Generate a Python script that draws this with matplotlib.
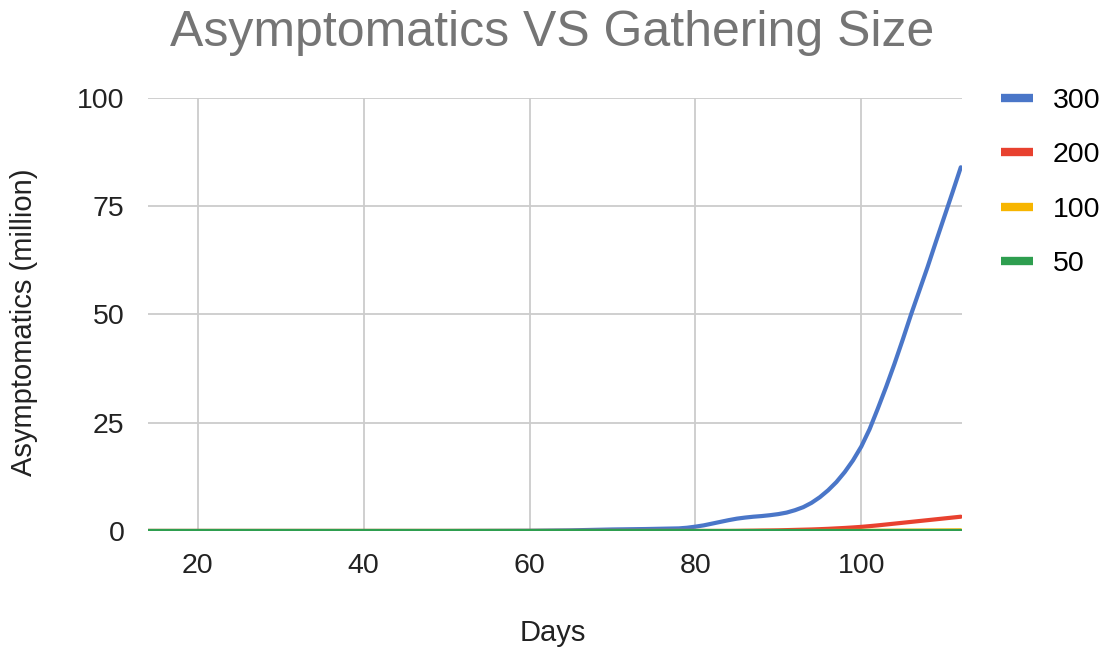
import matplotlib as mpl
import matplotlib.pyplot as plt

mpl.rcParams['font.family'] = ['Liberation Sans', 'DejaVu Sans']

days = [14, 20, 30, 40, 50, 60, 65, 70, 74, 78, 79, 80, 81, 82, 83, 84, 85, 86, 87, 88, 89,
        90, 91, 92, 93, 94, 95, 96, 97, 98, 99, 100, 101, 102, 103, 104, 105, 106, 107,
        108, 109, 110, 111, 112]
g300 = [0, 0, 0, 0, 0, 0.05, 0.15, 0.35, 0.45, 0.6, 0.75, 1.0, 1.3, 1.7, 2.1, 2.5, 2.85,
        3.1, 3.3, 3.45, 3.65, 3.9, 4.25, 4.8, 5.5, 6.5, 7.8, 9.4, 11.3, 13.6, 16.3, 19.5,
        23.5, 28.3, 33.3, 38.6, 44.2, 50, 55.5, 61, 66.8, 72.5, 78.2, 84]
g200 = [0, 0, 0, 0, 0, 0, 0, 0, 0, 0, 0, 0, 0, 0, 0, 0, 0.02, 0.05, 0.07, 0.1, 0.12,
        0.15, 0.2, 0.25, 0.3, 0.35, 0.42, 0.5, 0.6, 0.7, 0.82, 0.95, 1.12, 1.3, 1.5, 1.7,
        1.9, 2.1, 2.3, 2.5, 2.7, 2.9, 3.1, 3.3]
g100 = [0, 0, 0, 0, 0, 0, 0, 0, 0, 0, 0, 0, 0, 0, 0, 0, 0, 0, 0, 0, 0,
        0, 0, 0, 0, 0, 0.01, 0.01, 0.02, 0.02, 0.02, 0.03, 0.04, 0.05, 0.06, 0.07,
        0.08, 0.09, 0.1, 0.11, 0.12, 0.13, 0.14, 0.15]
g50 = [0] * len(days)

series = [('300', g300, '#4a76c8'), ('200', g200, '#e8412f'),
          ('100', g100, '#f7b500'), ('50', g50, '#2e9e4f')]

fig = plt.figure(figsize=(11.05, 6.52), dpi=100)
ax = fig.add_axes([0.134, 0.1856, 0.737, 0.6641])

for name, vals, col in series:
    ax.plot(days, vals, color=col, lw=3, label=name, solid_capstyle='round',
            solid_joinstyle='round')

ax.set_xlim(14, 112.2)
ax.set_ylim(0, 100)
ax.set_xticks([20, 40, 60, 80, 100])
ax.set_yticks([0, 25, 50, 75, 100])
ax.grid(True, color='#cccccc', lw=1.3)
ax.set_axisbelow(True)
for s in ax.spines.values():
    s.set_visible(False)
ax.tick_params(length=0, labelsize=20.5, colors='#222222')
ax.tick_params(axis='x', pad=16)
ax.tick_params(axis='y', pad=17)

fig.text(0.5, 0.949, 'Asymptomatics VS Gathering Size', ha='center', va='center',
         fontsize=36, color='#757575')
fig.text(0.5, 0.029, 'Days', ha='center', va='center', fontsize=21, color='#222222')
fig.text(0.022, 0.505, 'Asymptomatics (million)', ha='center', va='center',
         rotation=90, fontsize=21, color='#222222')

leg = fig.legend(loc='upper left', bbox_to_anchor=(0.883, 0.905), frameon=False,
                 fontsize=20.5, handlelength=1.1, handletextpad=0.7, labelspacing=1.0)
for h in leg.get_lines():
    h.set_linewidth(6)
    h.set_solid_capstyle('butt')

fig.savefig('out.png', dpi=100)
